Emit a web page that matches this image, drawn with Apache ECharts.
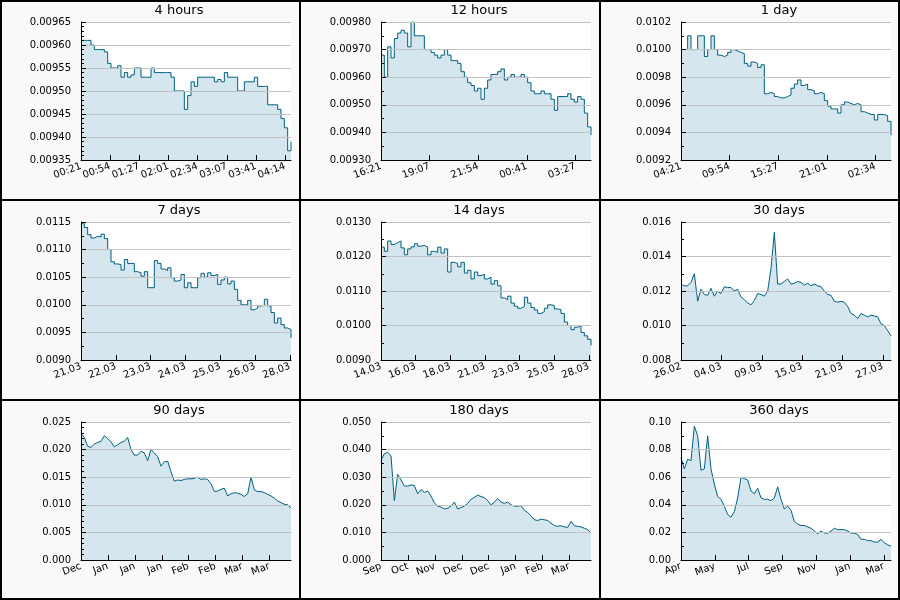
<!DOCTYPE html>
<html><head><meta charset="utf-8">
<script src="https://cdn.jsdelivr.net/npm/echarts@6/dist/echarts.min.js"></script>
<style>
body{margin:0;background:#fff;}
#wrap{position:relative;width:900px;height:600px;overflow:hidden;}
.panel{position:absolute;width:300px;height:200px;box-sizing:border-box;border:1px solid #000;background:#f9f9f9;}
#chart{position:absolute;left:0;top:0;width:900px;height:600px;}
#frame{position:absolute;left:0;top:0;width:900px;height:600px;box-sizing:border-box;border:2px solid #000;pointer-events:none;}
</style></head>
<body>
<div id="wrap">
  <div id="panels"></div>
  <div id="chart"></div>
  <div id="frame"></div>
</div>
<script>
// ---------- titles ----------
const titles = ['4 hours','12 hours','1 day','7 days','14 days','30 days','90 days','180 days','360 days'];

// ---------- x tick labels ----------
const xLabels4h  = ['00:21','00:54','01:27','02:01','02:34','03:07','03:41','04:14'];
const xLabels12h = ['16:21','19:07','21:54','00:41','03:27'];
const xLabels1d  = ['04:21','09:54','15:27','21:01','02:34'];
const xLabels7d  = ['21.03','22.03','23.03','24.03','25.03','26.03','28.03'];
const xLabels14d = ['14.03','16.03','18.03','21.03','23.03','25.03','28.03'];
const xLabels30d = ['26.02','04.03','09.03','15.03','21.03','27.03'];
const xLabels90d = ['Dec','Jan','Jan','Jan','Feb','Feb','Mar','Mar'];
const xLabels180d= ['Sep','Oct','Nov','Dec','Dec','Jan','Feb','Mar'];
const xLabels360d= ['Apr','May','Jul','Sep','Nov','Jan','Mar'];

// ---------- series values (evenly spaced samples in time) ----------
const values4h = [0.00961,0.00961,0.00961,0.00960,0.00959,0.00959,0.00959,0.009585,0.00956,0.00955,0.00955,0.009555,0.00953,0.00954,0.00953,0.009535,0.00955,0.00955,0.00953,0.00953,0.00953,0.00955,0.00954,0.00954,0.00954,0.00954,0.00954,0.00953,0.00950,0.00950,0.00950,0.00946,0.00949,0.00952,0.00951,0.00953,0.00953,0.00953,0.00953,0.00953,0.00952,0.009525,0.00952,0.00954,0.00953,0.00953,0.00953,0.00950,0.00950,0.00952,0.00952,0.00952,0.00953,0.00951,0.00951,0.00951,0.00947,0.00947,0.00947,0.00946,0.00944,0.00942,0.00937,0.00939];
const values12h = [0.00968,0.00960,0.00971,0.00967,0.00974,0.00976,0.00977,0.00976,0.00971,0.00980,0.00975,0.00975,0.00975,0.00970,0.00970,0.00969,0.00968,0.00967,0.00968,0.00970,0.00968,0.00966,0.00966,0.00965,0.00962,0.00960,0.00958,0.00957,0.00955,0.00956,0.00952,0.00956,0.00959,0.00961,0.00961,0.00962,0.00963,0.00959,0.00960,0.00961,0.00960,0.00960,0.00961,0.00960,0.00958,0.00955,0.00954,0.00954,0.00955,0.00954,0.00954,0.00952,0.00948,0.00953,0.00953,0.00953,0.00954,0.00952,0.00951,0.00953,0.00952,0.00947,0.00942,0.00939];
const values1d = [0.01000,0.01000,0.01010,0.01000,0.01000,0.01010,0.01010,0.00995,0.01000,0.01010,0.01000,0.00996,0.00995,0.00996,0.00998,0.01000,0.00999,0.00998,0.00997,0.00990,0.00988,0.00991,0.00990,0.00987,0.00989,0.00968,0.00969,0.00968,0.00966,0.00965,0.00965,0.00966,0.00967,0.00972,0.00975,0.00978,0.00974,0.00975,0.00971,0.00970,0.00968,0.00969,0.00968,0.00963,0.00959,0.00957,0.00957,0.00954,0.00960,0.00962,0.00961,0.00960,0.00961,0.00960,0.00955,0.00954,0.00953,0.00953,0.00949,0.00953,0.00953,0.00952,0.00948,0.00938];
const values7d = [0.01147,0.01140,0.01127,0.01121,0.01124,0.01123,0.01128,0.01120,0.01100,0.01078,0.01074,0.01073,0.01063,0.01082,0.01075,0.01075,0.01060,0.01058,0.01052,0.01060,0.01031,0.01031,0.01080,0.01075,0.01065,0.01062,0.01067,0.01049,0.01043,0.01045,0.01055,0.01031,0.01040,0.01031,0.01031,0.01049,0.01057,0.01050,0.01058,0.01053,0.01055,0.01037,0.01045,0.01050,0.01038,0.01043,0.01028,0.01008,0.01000,0.01000,0.01008,0.00991,0.00994,0.00998,0.00999,0.01010,0.00998,0.00986,0.00967,0.00976,0.00964,0.00958,0.00955,0.00940];
const values14d = [0.01227,0.01215,0.01245,0.01235,0.01240,0.01245,0.01225,0.01205,0.01222,0.01228,0.01237,0.01230,0.01232,0.01228,0.01205,0.01215,0.01212,0.01227,0.01210,0.01222,0.01155,0.01183,0.01180,0.01170,0.01183,0.01152,0.01160,0.01135,0.01155,0.01145,0.01148,0.01135,0.01140,0.01120,0.01130,0.01115,0.01080,0.01075,0.01085,0.01065,0.01056,0.01050,0.01055,0.01082,0.01065,0.01052,0.01045,0.01035,0.01040,0.01050,0.01060,0.01058,0.01048,0.01046,0.01035,0.01010,0.01000,0.00988,0.00995,0.01000,0.00980,0.00970,0.00960,0.00942];
const values30d = [0.01239,0.01230,0.01230,0.01250,0.01300,0.01141,0.01210,0.01180,0.01175,0.01215,0.01170,0.01200,0.01185,0.01225,0.01220,0.01220,0.01200,0.01210,0.01165,0.01150,0.01130,0.01120,0.01145,0.01185,0.01180,0.01170,0.01200,0.01330,0.01540,0.01240,0.01240,0.01255,0.01270,0.01240,0.01245,0.01255,0.01250,0.01235,0.01245,0.01230,0.01240,0.01230,0.01225,0.01200,0.01180,0.01175,0.01141,0.01135,0.01140,0.01135,0.01110,0.01070,0.01060,0.01040,0.01070,0.01060,0.01050,0.01060,0.01055,0.01050,0.01010,0.01000,0.00970,0.00940];
const values90d = [0.0229,0.0222,0.0206,0.0204,0.0210,0.0213,0.0215,0.0225,0.0220,0.0214,0.0205,0.0209,0.0213,0.0215,0.0222,0.0200,0.0190,0.0190,0.0197,0.0194,0.0180,0.0200,0.0194,0.0187,0.0170,0.0178,0.0179,0.0160,0.0143,0.0145,0.0144,0.0146,0.0147,0.0147,0.0148,0.0150,0.0146,0.0147,0.0146,0.0138,0.0124,0.0125,0.0128,0.0130,0.0116,0.0120,0.0122,0.0121,0.0119,0.0115,0.0120,0.0150,0.0127,0.0124,0.0124,0.0122,0.0119,0.0116,0.0112,0.0107,0.0104,0.0101,0.0100,0.0094];
const values180d = [0.0360,0.0385,0.0390,0.0378,0.0215,0.0310,0.0290,0.0268,0.0268,0.0272,0.0270,0.0240,0.0255,0.0245,0.0250,0.0232,0.0207,0.0195,0.0192,0.0185,0.0187,0.0195,0.0210,0.0185,0.0190,0.0195,0.0205,0.0220,0.0227,0.0235,0.0230,0.0226,0.0215,0.0200,0.0210,0.0222,0.0210,0.0205,0.0210,0.0200,0.0195,0.0195,0.0197,0.0180,0.0172,0.0160,0.0146,0.0143,0.0148,0.0146,0.0143,0.0133,0.0125,0.0122,0.0124,0.0120,0.0118,0.0140,0.0124,0.0122,0.0120,0.0115,0.0110,0.0098];
const values360d = [0.074,0.066,0.073,0.072,0.097,0.090,0.065,0.066,0.090,0.066,0.055,0.046,0.044,0.039,0.033,0.031,0.035,0.045,0.060,0.059,0.058,0.050,0.048,0.052,0.045,0.044,0.044,0.043,0.045,0.053,0.044,0.037,0.039,0.036,0.028,0.026,0.025,0.025,0.024,0.023,0.021,0.019,0.021,0.0195,0.0195,0.021,0.023,0.022,0.022,0.022,0.021,0.0195,0.0195,0.0185,0.015,0.015,0.014,0.014,0.013,0.013,0.015,0.0125,0.011,0.010];

// ---------- y axis ranges ----------
const yMin      = [0.00935,0.00930,0.0092,0.0090,0.0090,0.008,0.000,0.000,0.00];
const yMax      = [0.00965,0.00980,0.0102,0.0115,0.0130,0.016,0.025,0.050,0.10];
const yInterval = [0.00005,0.00010,0.0002,0.0005,0.0010,0.002,0.005,0.010,0.02];
const yDecimals = [5,5,4,4,4,3,3,3,2];

const xLabelSets = [xLabels4h,xLabels12h,xLabels1d,xLabels7d,xLabels14d,xLabels30d,xLabels90d,xLabels180d,xLabels360d];
const valueSets  = [values4h,values12h,values1d,values7d,values14d,values30d,values90d,values180d,values360d];
// axis length measured in label intervals
const xSpan = [7.2,4.32,4.32,6.03,6.06,5.2,7.8,7.8,6.21];
const minorSplit = [5,2,2,2,2,2,5,2,2];
const stepped = [true,true,true,true,true,false,false,false,false];

const LINE = '#00607f', GRIDC = '#c2c2c2';
// translucent fill so that ticks and grid lines show through the area
const AREA = 'rgb(0,104,152)', AREA_OPACITY = 0.165;

// panel backgrounds
const pc = document.getElementById('panels');
for (let i = 0; i < 9; i++) {
  const d = document.createElement('div');
  d.className = 'panel';
  d.style.left = (i % 3) * 300 + 'px';
  d.style.top = Math.floor(i / 3) * 200 + 'px';
  pc.appendChild(d);
}

const grids = [], xAxes = [], yAxes = [], series = [], graphics = [];
for (let i = 0; i < 9; i++) {
  const col = i % 3, row = Math.floor(i / 3);
  const labels = xLabelSets[i], span = xSpan[i], vals = valueSets[i];
  const idx = labels.map((_, k) => k);
  grids.push({left: col*300 + 81, top: row*200 + 22, width: 210, height: 138,
    show: true, backgroundColor: '#ffffff', borderWidth: 0});
  xAxes.push({
    gridIndex: i, type: 'value', min: 0, max: span, interval: 1, z: 5,
    axisLine: {show: true, onZero: false, lineStyle: {color: '#000', width: 1}},
    axisTick: {show: true, inside: true, length: 5, customValues: idx, lineStyle: {color: '#000', width: 1}},
    axisLabel: {customValues: idx, rotate: 20, margin: 6, fontSize: 10, color: '#000', fontFamily: 'DejaVu Sans',
      formatter: v => { const k = Math.round(v); return Math.abs(v - k) < 1e-6 && labels[k] !== undefined ? labels[k] : ''; }},
    splitLine: {show: false}
  });
  const dec = yDecimals[i];
  yAxes.push({
    gridIndex: i, type: 'value', min: yMin[i], max: yMax[i], interval: yInterval[i], z: 5,
    axisLine: {show: true, lineStyle: {color: '#000', width: 1}},
    axisTick: {show: true, inside: true, length: 5, lineStyle: {color: '#000', width: 1}},
    minorTick: {show: true, splitNumber: minorSplit[i], length: 3, lineStyle: {color: '#000', width: 1}},
    axisLabel: {formatter: v => v.toFixed(dec), fontSize: 10, color: '#000', margin: 10, fontFamily: 'DejaVu Sans'},
    splitLine: {show: true, lineStyle: {color: GRIDC, width: 1}}
  });
  series.push({
    type: 'line', xAxisIndex: i, yAxisIndex: i, z: 2,
    data: vals.map((v, k) => [k * span / (vals.length - 1), v]),
    step: stepped[i] ? 'end' : false,
    showSymbol: false, symbol: 'none', silent: true,
    lineStyle: {color: LINE, width: 1},
    areaStyle: {color: AREA, opacity: AREA_OPACITY, origin: 'start'}
  });
  graphics.push({type: 'text', x: col*300 + 179, y: row*200 + 4, silent: true, z: 10,
    style: {text: titles[i], fill: '#000', font: '13px "DejaVu Sans"', textAlign: 'center', textVerticalAlign: 'top'}});
}

const chart = echarts.init(document.getElementById('chart'));
chart.setOption({
  animation: false,
  textStyle: {fontFamily: 'DejaVu Sans'},
  grid: grids, xAxis: xAxes, yAxis: yAxes, series: series,
  graphic: graphics
});
</script>
</body></html>
